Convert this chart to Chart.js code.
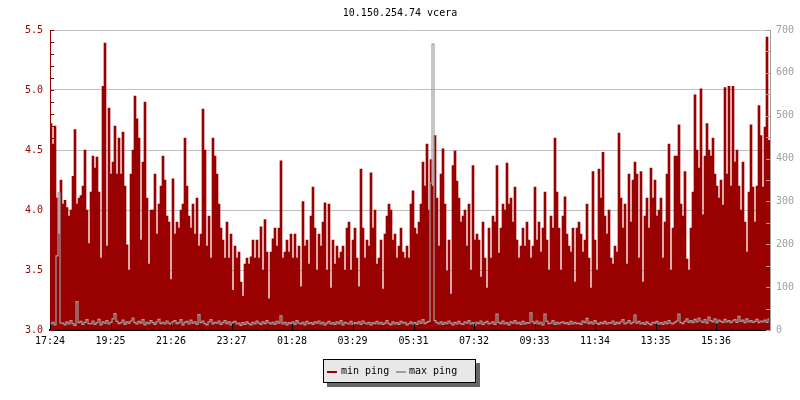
<!DOCTYPE html>
<html>
<head>
<meta charset="utf-8">
<script src="https://cdn.jsdelivr.net/npm/chart.js@4.4.0/dist/chart.umd.min.js"></script>
<style>
  html, body { margin: 0; padding: 0; background: #fff; }
  #wrap { position: relative; width: 800px; height: 400px; }
  #legend {
    position: absolute; left: 323px; top: 359px; width: 151px; height: 22px;
    border: 1px solid #000; background: #e8e8e8; box-shadow: 4px 4px 0 #666;
    font: 10px "DejaVu Sans Mono", monospace; color: #000;
  }
  .swatch { position: absolute; top: 11px; width: 10px; height: 2px; }
  .label { position: absolute; top: 0; height: 22px; line-height: 22px; white-space: nowrap; }
</style>
</head>
<body>
<div id="wrap">
  <canvas id="myChart" width="800" height="400"></canvas>
  <div id="legend">
    <div class="swatch" style="left:3px;background:#990000"></div>
    <div class="label" style="left:17px">min ping</div>
    <div class="swatch" style="left:72px;background:#a0a0a0"></div>
    <div class="label" style="left:85px">max ping</div>
  </div>
</div>
<script>
const RED = "#990000";
const GRAY = "#a0a0a0";
const FONT = '"DejaVu Sans Mono", monospace';

const chartTitle = "10.150.254.74 vcera";
const startTime = "17:24";
const stepMinutes = 4;
const tickLabels = ["17:24", "19:25", "21:26", "23:27", "01:28", "03:29", "05:31", "07:32", "09:33", "11:34", "13:35", "15:36"];

// min ping (left axis), one value per 4 minutes
const minPing = [
  4.72,4.55,4.7,4.1,3.8,4.25,4.05,4.08,4.02,3.95,4.0,4.28,4.67,4.05,4.1,4.12,4.2,4.5,4.0,3.72,
  4.15,4.45,4.35,4.44,4.15,3.6,5.03,5.39,3.7,4.85,4.3,4.4,4.7,4.3,4.6,4.3,4.65,4.2,3.71,3.5,
  4.3,4.5,4.95,4.76,4.6,3.75,4.4,4.9,4.1,3.55,4.0,4.0,4.3,3.8,4.05,4.2,4.45,4.25,3.95,3.9,
  3.42,4.26,3.8,3.9,3.85,4.0,4.05,4.6,4.2,3.95,3.85,4.05,3.8,4.1,3.7,3.8,4.84,4.5,3.7,3.95,
  3.6,4.6,4.45,4.3,4.05,3.85,3.75,3.6,3.9,3.6,3.8,3.33,3.7,3.6,3.65,3.4,3.28,3.55,3.6,3.55,
  3.61,3.75,3.6,3.75,3.6,3.86,3.5,3.92,3.65,3.26,3.65,3.76,3.85,3.7,3.85,4.41,3.6,3.65,3.75,3.65,
  3.8,3.6,3.8,3.6,3.7,3.36,4.07,3.7,3.75,3.55,3.95,4.19,3.85,3.5,3.8,3.7,3.9,4.06,3.5,4.05,
  3.35,3.75,3.55,3.7,3.6,3.65,3.7,3.5,3.85,3.9,3.5,3.75,3.85,3.6,3.36,4.34,3.85,3.6,3.75,3.7,
  4.31,3.85,4.0,3.55,3.6,3.75,3.34,3.8,3.95,4.05,4.0,3.75,3.8,3.6,3.7,3.85,3.65,3.6,3.7,3.6,
  4.05,4.16,3.85,3.8,3.9,4.05,4.4,4.2,4.55,4.0,4.42,4.2,4.62,4.1,3.7,4.3,4.51,4.05,3.49,3.75,
  3.3,4.37,4.49,4.24,4.1,3.9,3.95,4.0,3.7,4.05,3.5,4.37,3.75,3.8,3.75,3.44,3.9,3.6,3.35,3.85,
  3.6,3.95,3.9,4.37,3.64,3.85,4.05,4.0,4.39,4.05,4.1,3.9,4.19,3.75,3.6,3.7,3.85,3.7,3.9,3.75,
  3.6,3.7,4.19,3.75,3.9,3.65,3.85,4.15,3.75,3.5,3.95,3.85,4.6,4.15,3.85,3.5,3.95,4.11,3.8,3.7,
  3.65,3.85,3.4,3.85,3.9,3.8,3.65,3.75,4.05,3.6,3.35,4.32,3.75,3.5,4.34,4.1,4.48,3.95,3.8,4.0,
  3.6,3.55,3.7,3.65,4.64,4.1,3.85,4.05,3.55,4.3,3.9,4.25,4.4,4.3,3.6,4.32,3.4,3.95,4.1,3.85,
  4.35,4.1,4.25,3.95,4.0,4.1,3.6,3.9,4.3,4.55,3.5,3.85,4.45,4.45,4.71,4.05,3.95,4.32,3.59,3.5,
  3.85,4.15,4.96,4.5,4.35,5.01,3.96,4.45,4.72,4.5,4.45,4.6,4.3,4.2,4.1,4.25,4.04,5.02,4.3,5.03,
  4.2,5.03,4.4,4.5,4.2,4.0,4.4,3.9,3.65,4.15,4.71,4.19,3.9,4.2,4.87,4.62,4.19,4.69,5.44,4.58
];

// max ping (right axis)
const maxPing = [
  14,18,12,173,320,16,16,12,19,14,22,15,11,66,17,20,13,18,24,15,
  15,21,13,17,25,12,19,16,22,14,18,26,38,20,15,17,23,13,19,16,
  21,28,17,14,20,16,24,12,18,15,22,17,13,19,25,15,18,14,21,16,
  13,19,22,15,17,24,12,18,20,14,23,16,19,13,36,17,21,15,12,19,
  24,14,18,16,21,13,17,22,15,19,12,18,20,14,16,11,17,13,19,15,
  12,18,14,21,16,13,19,15,22,17,14,18,13,20,16,33,14,18,12,17,
  15,19,13,22,16,14,18,12,20,15,17,13,19,16,21,14,18,12,16,20,
  14,17,13,19,15,22,12,18,16,14,20,13,17,15,19,13,21,16,14,18,
  12,17,15,20,14,18,13,16,22,15,12,19,14,17,13,20,16,18,12,15,
  19,14,17,13,21,16,24,15,18,20,343,667,22,17,14,19,13,18,15,21,
  16,12,18,14,20,15,13,19,16,22,14,17,12,18,15,21,13,17,20,14,
  16,19,13,37,18,15,21,14,17,12,19,16,22,15,18,13,20,14,17,16,
  40,19,15,21,14,18,12,37,20,15,16,22,13,18,14,17,19,15,17,13,
  20,14,18,15,16,13,21,17,27,15,19,14,22,16,13,18,15,20,14,17,
  16,21,13,18,15,19,24,14,17,22,15,18,35,16,20,14,17,13,19,15,
  12,18,16,20,14,17,13,19,15,22,16,14,18,21,37,17,15,20,26,18,
  22,17,25,19,28,21,18,24,16,30,22,19,26,17,23,20,18,25,19,22,
  17,21,24,18,32,20,23,17,26,19,22,18,20,25,17,21,19,23,18,26
];

// minutes since start for each time label
function toMin(s) { const p = s.split(":"); return parseInt(p[0]) * 60 + parseInt(p[1]); }
const tickMinutes = tickLabels.map(t => (toMin(t) - toMin(startTime) + 1440) % 1440);
const spanMinutes = minPing.length * stepMinutes;

const tickFont = { family: FONT, size: 10 };

// small inward tick marks on the three axes
const tickMarks = {
  id: "tickMarks",
  afterDraw(chart) {
    const { ctx, chartArea: a, scales: { x, y, y2 } } = chart;
    ctx.save();
    ctx.lineWidth = 1;
    ctx.beginPath();
    ctx.strokeStyle = RED;
    for (let k = 0; k <= 25; k++) {
      const py = Math.round(y.getPixelForValue(3 + k / 10)) + 0.5;
      ctx.moveTo(a.left, py); ctx.lineTo(a.left + 4, py);
    }
    ctx.stroke();
    ctx.beginPath();
    ctx.strokeStyle = GRAY;
    for (let v = 0; v <= 700; v += 50) {
      const py = Math.round(y2.getPixelForValue(v)) + 0.5;
      ctx.moveTo(a.right - 4, py); ctx.lineTo(a.right, py);
    }
    ctx.stroke();
    ctx.beginPath();
    ctx.strokeStyle = "#000";
    tickMinutes.forEach(m => {
      const px = Math.round(x.getPixelForValue(m)) + 0.5;
      ctx.moveTo(px, a.bottom); ctx.lineTo(px, a.bottom - 6);
    });
    ctx.stroke();
    ctx.restore();
  }
};

new Chart(document.getElementById("myChart"), {
  type: "bar",
  data: {
    datasets: [
      {
        type: "line",
        label: "max ping",
        data: maxPing.map((v, i) => ({ x: i * stepMinutes + stepMinutes / 2, y: v })),
        borderColor: GRAY,
        borderWidth: 1.2,
        pointRadius: 0,
        stepped: "middle",
        yAxisID: "y2",
        order: 1
      },
      {
        type: "bar",
        label: "min ping",
        data: minPing.map((v, i) => ({ x: i * stepMinutes + stepMinutes / 2, y: v })),
        backgroundColor: RED,
        borderWidth: 0,
        barPercentage: 1,
        categoryPercentage: 1,
        yAxisID: "y",
        order: 2
      }
    ]
  },
  options: {
    responsive: false,
    animation: false,
    layout: { padding: 0 },
    plugins: {
      legend: { display: false },
      tooltip: { enabled: false },
      title: {
        display: true,
        text: chartTitle,
        color: "#000",
        font: { family: FONT, size: 10, weight: "normal" },
        padding: { top: 7, bottom: 11 }
      }
    },
    scales: {
      x: {
        type: "linear",
        offset: false,
        min: 0,
        max: spanMinutes,
        afterBuildTicks: axis => { axis.ticks = tickMinutes.map(v => ({ value: v })); },
        afterFit: axis => { axis.height = 70; },
        grid: { display: false, drawTicks: false },
        border: { color: "#000", width: 2 },
        ticks: {
          autoSkip: false, maxRotation: 0, color: "#000", font: tickFont, padding: 5,
          callback: (v, i) => tickLabels[i]
        }
      },
      y: {
        position: "left",
        min: 3,
        max: 5.5,
        afterFit: axis => { axis.width = 50; },
        grid: { color: "#c0c0c0", drawTicks: false },
        border: { color: RED },
        ticks: { stepSize: 0.5, color: RED, font: tickFont, padding: 7, callback: v => v.toFixed(1) }
      },
      y2: {
        position: "right",
        min: 0,
        max: 700,
        afterFit: axis => { axis.width = 30; },
        grid: { display: false, drawTicks: false },
        border: { color: GRAY },
        ticks: { stepSize: 100, color: GRAY, font: tickFont, padding: 6 }
      }
    }
  },
  plugins: [tickMarks]
});
</script>
</body>
</html>
